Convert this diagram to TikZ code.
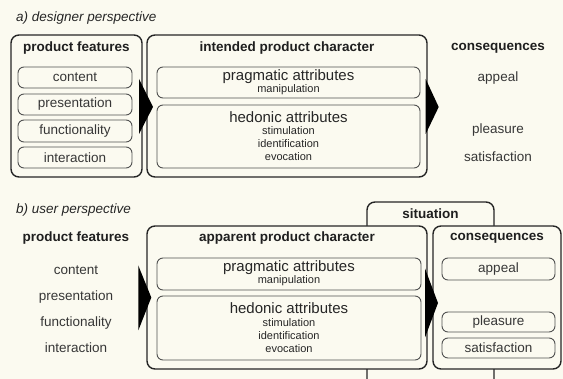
\documentclass[tikz,border=0pt]{standalone}
\usepackage{fontspec}
\setmainfont{Liberation Sans}
\usetikzlibrary{fit,calc}
\definecolor{bg}{RGB}{251,250,240}
\definecolor{frame}{RGB}{38,38,38}
\definecolor{inner}{RGB}{80,80,80}
\definecolor{txt}{RGB}{55,55,55}
\tikzset{
  outerbox/.style={draw=frame, line width=1.4pt, rounded corners=8pt, fill=bg, inner sep=0pt},
  innerbox/.style={draw=inner, line width=0.9pt, rounded corners=6pt, inner sep=0pt},
  head/.style={font=\fontsize{13.5}{16}\selectfont\bfseries, text=black!88, inner sep=0pt},
  plain/.style={font=\fontsize{13.5}{16}\selectfont, text=txt, inner sep=0pt},
  attr/.style={font=\fontsize{15}{18}\selectfont, text=black!85, inner sep=0pt},
  small/.style={font=\fontsize{11}{12}\selectfont, text=black!85, inner sep=0pt},
  ttl/.style={font=\fontsize{13.5}{16}\selectfont\itshape, text=black!85, inner sep=0pt, anchor=west},
  wedge/.style={fill=black}
}
\begin{document}
\begin{tikzpicture}[x=1pt,y=-1pt]
\fill[bg] (0,0) rectangle (563,379);
\useasboundingbox (0,0) rectangle (563,379);

% ---------- a) designer perspective ----------
\node[ttl] (titleA) at (16,18) {a) designer perspective};

\node[outerbox, fit={(11,35)(142,177)}] (pfA) {};
\node[head] (pfAh) at (76.5,48) {product features};
\node[innerbox, fit={(18,67)(132,88)}] (contA) {};
\node[plain] at (contA.center) {content};
\node[innerbox, fit={(18,94)(132,115)}] (presA) {};
\node[plain] at (presA.center) {presentation};
\node[innerbox, fit={(18,120)(132,142)}] (funcA) {};
\node[plain] at (funcA.center) {functionality};
\node[innerbox, fit={(18,147)(132,168)}] (interA) {};
\node[plain] at (interA.center) {interaction};

\node[outerbox, fit={(147,35)(427,177)}] (ipcA) {};
\node[head] (ipcAh) at (287,48) {intended product character};
\node[innerbox, fit={(157,67)(420,98)}] (pragA) {};
\node[attr] at (288.5,77) {pragmatic attributes};
\node[small] at (288.5,90) {manipulation};
\node[innerbox, fit={(157,105)(420,168)}] (hedA) {};
\node[attr] at (288.5,117) {hedonic attributes};
\node[small] at (288.5,130.5) {stimulation};
\node[small] at (288.5,144) {identification};
\node[small] at (288.5,157) {evocation};

\node[head] (csAh) at (498,48) {consequences};
\node[plain] (appA) at (498,78) {appeal};
\node[plain] (pleaA) at (498,130) {pleasure};
\node[plain] (satA) at (498,156.5) {satisfaction};

\path (pfA.east) -- (ipcA.west) coordinate[midway] (gA1);
\fill[wedge] ($(gA1)+(-5.5,-27)$) -- ($(gA1)+(8.5,1)$) -- ($(gA1)+(-5.5,28)$) -- cycle;
\fill[wedge] ($(ipcA.east)+(-2,-27)$) -- ($(ipcA.east)+(11,1)$) -- ($(ipcA.east)+(-2,28)$) -- cycle;

% ---------- b) user perspective ----------
\node[ttl] (titleB) at (16,210) {b) user perspective};

\draw[draw=frame, line width=1.4pt, rounded corners=8pt] (367,379) -- (367,202) -- (494,202) -- (494,379);
\node[head] (sit) at (430.5,214) {situation};

\node[head] (pfBh) at (76,238) {product features};
\node[plain] (contB) at (76,270) {content};
\node[plain] (presB) at (76,297) {presentation};
\node[plain] (funcB) at (76,323) {functionality};
\node[plain] (interB) at (76,348) {interaction};

\node[outerbox, fit={(147,226)(427,369)}] (apB) {};
\node[head] (apBh) at (287,238) {apparent product character};
\node[innerbox, fit={(157,258)(421,290)}] (pragB) {};
\node[attr] at (289,268) {pragmatic attributes};
\node[small] at (289,281) {manipulation};
\node[innerbox, fit={(157,296)(421,360)}] (hedB) {};
\node[attr] at (289,308) {hedonic attributes};
\node[small] at (289,322.5) {stimulation};
\node[small] at (289,336) {identification};
\node[small] at (289,349) {evocation};

\node[outerbox, fit={(433,226)(561,369)}] (csB) {};
\node[head] (csBh) at (497,238) {consequences};
\node[innerbox, fit={(442,258)(555,280)}] (appB) {};
\node[plain] at (appB.center) {appeal};
\node[innerbox, fit={(442,312)(555,332)}] (pleaB) {};
\node[plain] at (pleaB.center) {pleasure};
\node[innerbox, fit={(442,338)(555,358)}] (satB) {};
\node[plain] at (satB.center) {satisfaction};

\fill[wedge] ($(apB.west)+(-8,-32)$) -- ($(apB.west)+(5,0)$) -- ($(apB.west)+(-8,33)$) -- cycle;
\path (apB.east) -- (csB.west) coordinate[midway] (gB2);
\fill[wedge] ($(gB2)+(-5,-29)$) -- ($(gB2)+(8,5.5)$) -- ($(gB2)+(-5,40)$) -- cycle;
\end{tikzpicture}
\end{document}
